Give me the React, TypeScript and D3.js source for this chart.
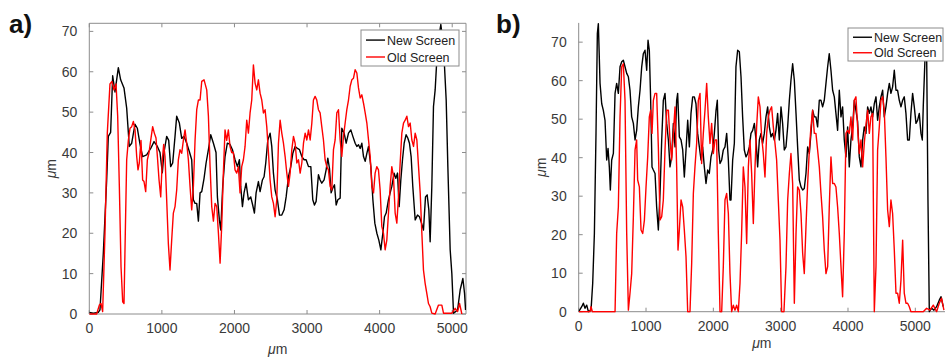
import React from 'react';
import * as d3 from 'd3';

type Pt = [number, number];

// panel a) profiles, [position in µm, height in µm]
const aNewScreen: Pt[] = [
  [0, 0.4], [55, 0.2], [124, 0.4], [147, 1], [193, 15], [239, 33], [262, 44], [294, 45], [322, 59], [354, 55],
  [400, 61], [432, 58], [478, 56], [515, 51], [551, 41.5], [584, 42.3], [630, 47], [662, 46], [699, 42], [735, 39],
  [790, 39.4], [846, 41], [892, 42.7], [938, 41.5], [974, 40], [1006, 35], [1029, 40], [1066, 44], [1094, 43], [1121, 36.5],
  [1149, 37.4], [1181, 44], [1204, 49], [1241, 47.3], [1273, 43.5], [1305, 44], [1342, 42.3], [1379, 40.2], [1411, 38.2], [1434, 28.3],
  [1457, 27.4], [1480, 27.4], [1503, 23], [1526, 30], [1549, 30.3], [1581, 33.6], [1609, 37.4], [1641, 40.7], [1673, 44.4], [1710, 42.3],
  [1746, 40], [1765, 29], [1792, 23.3], [1811, 20.8], [1838, 31.6], [1870, 39], [1902, 42.3], [1939, 42], [1972, 40.7], [2008, 38.2],
  [2041, 36.5], [2068, 38.2], [2086, 31.6], [2110, 26.6], [2132, 30], [2160, 32.4], [2192, 28.3], [2224, 29], [2251, 27], [2275, 25],
  [2298, 30], [2330, 32.8], [2353, 30.3], [2385, 33.2], [2408, 34], [2431, 37.4], [2459, 43], [2491, 44.8], [2514, 41.5], [2537, 34.9],
  [2560, 30.7], [2592, 28.3], [2620, 24.5], [2652, 24.5], [2684, 25.8], [2712, 29], [2744, 34], [2776, 36.5], [2804, 39.8], [2836, 41.5],
  [2868, 41], [2896, 40.7], [2928, 39], [2960, 38.2], [2987, 38.2], [3020, 36.5], [3052, 36.5], [3079, 28.3], [3102, 27], [3125, 27.9],
  [3157, 34.5], [3180, 33.2], [3203, 32.4], [3235, 33.2], [3263, 35.7], [3286, 38.6], [3309, 36.1], [3332, 30], [3355, 31.2], [3378, 32],
  [3401, 27], [3424, 28.3], [3456, 28.7], [3479, 46], [3511, 44.8], [3539, 42.3], [3571, 44.8], [3603, 45.6], [3631, 44], [3663, 42.3],
  [3686, 41.5], [3709, 41.9], [3732, 41], [3755, 42.3], [3778, 39], [3801, 37.8], [3824, 39.8], [3847, 41.5], [3879, 36.5], [3907, 28.3],
  [3934, 22.5], [3962, 20], [3989, 18.3], [4017, 15.9], [4044, 20], [4067, 24.1], [4090, 25], [4122, 28.3], [4145, 30], [4168, 31.6],
  [4200, 34.9], [4223, 33.6], [4246, 34.9], [4269, 26.6], [4292, 33.2], [4315, 38.2], [4338, 42.3], [4365, 44.4], [4388, 43.6], [4411, 42.3],
  [4434, 39], [4457, 31.6], [4490, 23.3], [4522, 24.5], [4549, 24.1], [4577, 22.5], [4604, 20.8], [4632, 29], [4655, 29.5], [4678, 25.8],
  [4696, 17.9], [4719, 31.6], [4742, 51.4], [4765, 55.5], [4788, 63], [4811, 68], [4843, 71.7], [4880, 66.3], [4917, 53], [4940, 36.5],
  [4972, 15.9], [4995, 10], [5018, 0.2], [5046, 0.6], [5074, 1], [5110, 6], [5147, 8.8], [5170, 5.1], [5184, 1],
];

const aOldScreen: Pt[] = [
  [0, 0], [101, 0], [138, 2.2], [161, 2.6], [184, 0.6], [216, 20], [248, 44.8], [285, 57], [312, 57.6], [340, 55.5],
  [368, 57], [391, 49], [414, 31.6], [437, 11.7], [460, 3], [478, 2.6], [496, 20], [515, 38.2], [538, 43], [561, 46],
  [584, 46.4], [607, 47.7], [630, 45.6], [653, 39], [671, 35.7], [689, 37.4], [712, 43], [735, 33.2], [754, 32.8], [777, 30.3],
  [800, 38.2], [823, 40], [846, 43], [873, 46.4], [896, 44.8], [919, 43.6], [938, 39], [961, 33.2], [984, 29], [1006, 38.2],
  [1025, 42], [1043, 39], [1066, 28.3], [1089, 17.5], [1112, 10.9], [1135, 18.3], [1158, 25], [1181, 26.6], [1204, 30.7], [1227, 38.2],
  [1250, 40.7], [1273, 39.8], [1296, 43], [1319, 45.6], [1342, 42.3], [1365, 38.2], [1388, 31.6], [1411, 25.8], [1434, 31.6], [1457, 43],
  [1480, 50.6], [1503, 53], [1526, 53], [1549, 57.6], [1581, 58], [1618, 55.5], [1641, 49], [1664, 36.5], [1687, 26.6], [1710, 23],
  [1733, 27.4], [1756, 26.6], [1779, 20], [1802, 12.6], [1824, 21.7], [1847, 34.9], [1870, 45.6], [1893, 43], [1916, 45.6], [1939, 41.5],
  [1962, 40], [1985, 40], [2008, 35.7], [2031, 34.9], [2054, 36.5], [2077, 30], [2100, 36.5], [2123, 38.2], [2146, 41.5], [2169, 48],
  [2192, 44.8], [2215, 49.8], [2238, 53], [2261, 61.7], [2284, 57.2], [2307, 55.5], [2330, 58], [2353, 54.7], [2376, 53], [2399, 49.8],
  [2422, 50.6], [2445, 46.4], [2468, 40], [2491, 33.2], [2514, 29], [2537, 27.4], [2560, 24.1], [2583, 28.3], [2606, 42.3], [2629, 48],
  [2652, 44.8], [2675, 42.3], [2698, 39], [2721, 34.9], [2744, 31.6], [2767, 34.9], [2790, 40.7], [2813, 44], [2836, 42.3], [2859, 37.4],
  [2882, 38.2], [2905, 34.9], [2928, 37.4], [2951, 42.3], [2974, 44.8], [2997, 43.1], [3020, 45.6], [3043, 43.1], [3066, 47.3], [3088, 53],
  [3111, 53.9], [3134, 53], [3157, 50.6], [3180, 49.8], [3203, 46.4], [3226, 43.1], [3249, 38.2], [3272, 36.5], [3295, 35.7], [3318, 31.6],
  [3341, 30.7], [3364, 40.7], [3387, 43.1], [3410, 49.8], [3433, 50.6], [3456, 43.1], [3479, 39], [3502, 44], [3525, 47.3], [3548, 50.6],
  [3571, 53], [3594, 56.4], [3617, 58], [3640, 58.4], [3663, 60.5], [3686, 59.7], [3709, 56], [3732, 53.5], [3755, 54.3], [3778, 52.2],
  [3801, 49.8], [3824, 47.3], [3847, 43.1], [3870, 39], [3893, 31.6], [3916, 30], [3938, 34.9], [3961, 36.5], [3984, 35.7], [4007, 30.7],
  [4030, 21.7], [4053, 20], [4076, 15.9], [4099, 18.3], [4122, 25], [4145, 31.6], [4168, 36.5], [4191, 34], [4214, 25], [4237, 22.5],
  [4260, 29], [4283, 37.4], [4306, 44.8], [4329, 47.3], [4352, 48], [4375, 49], [4398, 46.4], [4421, 47.3], [4444, 43.1], [4467, 41.5],
  [4490, 44.8], [4513, 43.1], [4536, 36.5], [4559, 30], [4582, 20], [4604, 10.9], [4627, 7.6], [4650, 5.1], [4673, 2.6], [4696, 1.8],
  [4719, 0.2], [4765, 0], [4811, 2.2], [4857, 2.2], [4880, 0.2], [4995, 0.2], [5041, 1.4], [5074, 0.6], [5101, 2.6], [5133, 0],
];

// panel b) profiles
const bNewScreen: Pt[] = [
  [0, 0], [45, 1.3], [69, 2.2], [94, 0.9], [119, 1.7], [144, 0], [183, 0.4], [208, 7.4], [233, 20.3], [257, 46.3],
  [277, 72.2], [292, 74.8], [317, 59.3], [342, 54], [366, 52.3], [391, 49.7], [416, 39.4], [436, 42.4], [455, 37.6], [470, 31.6],
  [490, 39.4], [515, 41.1], [540, 56.7], [564, 59.3], [589, 56.7], [614, 63.6], [639, 64.9], [663, 65.3], [688, 63.6], [713, 61.9],
  [738, 61], [762, 57.5], [787, 50.6], [812, 48.9], [837, 44.6], [861, 47.1], [886, 53.2], [911, 57.5], [936, 63.6], [960, 67],
  [985, 67.9], [1010, 62.7], [1030, 70.5], [1049, 67.9], [1069, 54.9], [1089, 37.6], [1109, 36.8], [1134, 35.9], [1158, 27.2], [1183, 21.2],
  [1208, 30.7], [1233, 44.6], [1257, 54.9], [1282, 56.7], [1307, 48.9], [1332, 44.6], [1356, 37.6], [1381, 40.2], [1406, 48.9], [1431, 42.8],
  [1455, 54.9], [1470, 56.7], [1495, 45.4], [1520, 44.6], [1545, 42], [1569, 35], [1594, 42], [1619, 49.7], [1644, 42.8], [1668, 51.5],
  [1693, 55.8], [1718, 55.8], [1742, 54], [1767, 46.3], [1792, 42.8], [1817, 39.4], [1841, 42.8], [1866, 37.6], [1891, 33.3], [1916, 36.8],
  [1940, 35.9], [1965, 40.2], [1990, 42], [2015, 46.3], [2040, 52.3], [2059, 54.9], [2079, 42], [2099, 38.5], [2124, 39.4], [2148, 42],
  [2173, 42.8], [2198, 46.3], [2223, 39.4], [2247, 29], [2262, 29], [2287, 39.4], [2312, 43.7], [2336, 63.6], [2361, 67.9], [2386, 67.5],
  [2411, 61], [2435, 50.6], [2460, 42], [2485, 40.2], [2510, 41.1], [2535, 42.8], [2559, 46.3], [2584, 47.1], [2609, 48.9], [2634, 44.6],
  [2658, 37.6], [2683, 44.6], [2708, 46.3], [2732, 43.7], [2757, 46.3], [2782, 50.6], [2807, 53.2], [2832, 48], [2856, 45.4], [2881, 46.3],
  [2906, 44.6], [2930, 47.1], [2955, 51.5], [2980, 44.6], [3005, 53.2], [3029, 48.9], [3054, 42], [3079, 42.8], [3104, 48], [3129, 54.9],
  [3153, 60.1], [3178, 64.4], [3203, 60.1], [3228, 51.5], [3252, 42.8], [3277, 34.2], [3302, 32.4], [3327, 31.6], [3351, 32], [3376, 35.9],
  [3401, 42.8], [3426, 41.1], [3450, 46.3], [3475, 52.3], [3500, 50.6], [3524, 50.6], [3549, 48], [3574, 54.9], [3599, 54.9], [3623, 53.2],
  [3648, 54.9], [3673, 59.3], [3698, 63.6], [3722, 67], [3747, 62.7], [3772, 57.5], [3797, 55.8], [3821, 51.5], [3846, 47.1], [3871, 57.5],
  [3896, 50.6], [3920, 53.2], [3945, 44.6], [3970, 40.2], [3995, 48], [4019, 37.6], [4044, 44.6], [4069, 48], [4094, 54.9], [4118, 52.3],
  [4143, 49.4], [4168, 40.2], [4193, 37.6], [4218, 44.6], [4242, 48], [4267, 46.3], [4292, 53.2], [4317, 51.5], [4341, 53.2], [4366, 50.6],
  [4391, 54], [4416, 55.8], [4440, 49.7], [4465, 53.2], [4490, 55.8], [4515, 57.5], [4539, 50.6], [4564, 53.2], [4589, 56.7], [4614, 59.3],
  [4638, 56.7], [4663, 58.4], [4688, 62.7], [4713, 57.5], [4737, 57.5], [4762, 54.9], [4787, 53.2], [4812, 54.9], [4836, 55.8], [4861, 51.5],
  [4886, 44.6], [4911, 44.6], [4935, 51.5], [4960, 56.7], [4985, 53.2], [5010, 48.9], [5034, 49.7], [5059, 51.5], [5084, 46.3], [5104, 44.6],
  [5118, 53.2], [5143, 65.3], [5168, 67.9], [5188, 29], [5208, 0], [5242, 0.9], [5277, 0.4], [5316, 1.3], [5356, 3], [5381, 3.9],
  [5415, 1.3],
];

const bOldScreen: Pt[] = [
  [0, 0], [168, 0], [183, 1.3], [203, 0], [540, 0], [564, 20.3], [589, 27.2], [614, 50.6], [639, 63.6], [663, 64.4],
  [688, 54.9], [713, 20.3], [738, 0.4], [762, 4.8], [787, 9.9], [812, 24.7], [837, 42], [861, 44.6], [876, 34.2], [901, 32.4],
  [926, 21.2], [951, 20.3], [976, 23.8], [1000, 32.4], [1025, 40.2], [1049, 50.6], [1069, 52.3], [1089, 46.3], [1109, 54.9], [1134, 56.7],
  [1158, 56.7], [1183, 42.8], [1208, 23.8], [1233, 24.7], [1257, 29], [1282, 42], [1307, 52.3], [1332, 52.3], [1356, 44.6], [1381, 39.4],
  [1406, 46.3], [1431, 53.2], [1455, 37.6], [1475, 16], [1495, 21.2], [1520, 29], [1545, 27.2], [1569, 21.2], [1594, 14.3], [1619, 0],
  [1653, 0], [1678, 12.5], [1703, 30.7], [1727, 37.6], [1752, 43.7], [1777, 54.9], [1802, 56.7], [1826, 38.5], [1851, 46.3], [1876, 52.3],
  [1901, 59.3], [1925, 50.6], [1950, 43.7], [1975, 48.9], [2000, 41.1], [2025, 44.6], [2049, 44.6], [2074, 20.3], [2099, 0], [2124, 0],
  [2148, 11.7], [2173, 29], [2198, 30.7], [2223, 25.5], [2247, 9.9], [2272, 0], [2297, 1.7], [2321, 0.4], [2346, 1.7], [2371, 0],
  [2396, 7.4], [2420, 20.3], [2445, 37.6], [2470, 32.4], [2495, 17.7], [2520, 37.6], [2544, 44.6], [2569, 35.9], [2594, 22.9], [2619, 37.6],
  [2643, 48], [2668, 55.8], [2693, 53.2], [2718, 45.4], [2742, 41.1], [2767, 35], [2792, 46.3], [2817, 50.6], [2841, 52.3], [2866, 53.2],
  [2891, 48], [2916, 43.7], [2940, 39.4], [2965, 29], [2990, 18.6], [3015, 0], [3049, 0], [3079, 11.7], [3104, 29], [3129, 35.9],
  [3153, 41.1], [3178, 33.3], [3203, 2.2], [3228, 20.3], [3252, 32.4], [3277, 31.6], [3302, 25.5], [3327, 15.1], [3351, 9.9], [3376, 22.1],
  [3401, 33.3], [3426, 42], [3450, 48], [3475, 52.3], [3500, 46.3], [3524, 46.3], [3549, 42], [3574, 37.6], [3599, 30.7], [3623, 24.7],
  [3648, 16], [3673, 9.9], [3698, 11.7], [3722, 27.2], [3747, 40.2], [3772, 33.3], [3797, 33.3], [3821, 32.4], [3846, 27.2], [3871, 20.3],
  [3896, 11.7], [3920, 3.9], [3945, 20.3], [3970, 46.3], [3995, 47.1], [4019, 46.3], [4044, 50.6], [4069, 44.6], [4094, 54.9], [4118, 55.8],
  [4143, 48], [4168, 41.1], [4193, 44.6], [4218, 37.6], [4242, 43.7], [4267, 48.6], [4292, 52.3], [4317, 46.3], [4341, 50.6], [4366, 51.5],
  [4391, 0], [4416, 11.7], [4440, 42], [4465, 48], [4490, 54.9], [4515, 55.8], [4539, 52.3], [4564, 40.2], [4589, 26.4], [4614, 22.1],
  [4638, 29], [4663, 25.5], [4688, 16], [4713, 4.8], [4737, 4.8], [4762, 2.2], [4787, 8.2], [4812, 18.6], [4836, 4.8], [4861, 2.2],
  [4886, 2.2], [4911, 1.3], [4935, 0], [5118, 0], [5168, 0.9], [5217, 0.4], [5267, 1.7], [5316, 0], [5356, 2.2], [5390, 3.5],
  [5425, 0.4],
];

const xTicks = [0, 1000, 2000, 3000, 4000, 5000];
const yTicks = [0, 10, 20, 30, 40, 50, 60, 70];
const legendLabels = ['New Screen', 'Old Screen'];
const seriesColors = ['#000000', '#ff0000'];

const axisColor = '#8c8c8c';
const textColor = '#3a3a3a';
const font = 'Liberation Sans, Arial, Helvetica, sans-serif';

type PanelProps = {
  id: string;
  tag: string;
  tagX: number;
  series: Pt[][];
  xMax: number;
  yMax: number;
  left: number;
  right: number;
  top: number;
  bottom: number;
  box: boolean;
  legend: { x: number; y: number; w: number; h: number };
  yLabelX: number;
  xLabelY: number;
};

const Panel = ({ id, tag, tagX, series, xMax, yMax, left, right, top, bottom, box, legend, yLabelX, xLabelY }: PanelProps) => {
  const x = d3.scaleLinear().domain([0, xMax]).range([left, right]);
  const y = d3.scaleLinear().domain([0, yMax]).range([bottom, top]);
  const line = d3
    .line<Pt>()
    .x((d) => x(d[0]))
    .y((d) => y(d[1]));
  const tick = 4;

  return (
    <g>
      <defs>
        <clipPath id={`clip-${id}`}>
          <rect x={left} y={top - 2} width={right - left} height={bottom - top + 3} />
        </clipPath>
      </defs>

      {/* axes */}
      <line x1={left} x2={right} y1={bottom} y2={bottom} stroke={axisColor} strokeWidth={1} />
      <line x1={left} x2={left} y1={top} y2={bottom} stroke={axisColor} strokeWidth={1} />
      {box && (
        <>
          <line x1={left} x2={right} y1={top} y2={top} stroke={axisColor} strokeWidth={1} />
          <line x1={right} x2={right} y1={top} y2={bottom} stroke={axisColor} strokeWidth={1} />
        </>
      )}

      {xTicks.map((t) => (
        <g key={`x${t}`}>
          <line x1={x(t)} x2={x(t)} y1={bottom} y2={bottom - tick} stroke={axisColor} />
          {box && <line x1={x(t)} x2={x(t)} y1={top} y2={top + tick} stroke={axisColor} />}
          <text x={x(t)} y={bottom + 19} textAnchor="middle" fontSize={14} fill={textColor} fontFamily={font}>
            {t}
          </text>
        </g>
      ))}
      {yTicks.map((t) => (
        <g key={`y${t}`}>
          <line x1={left} x2={left + tick} y1={y(t)} y2={y(t)} stroke={axisColor} />
          {box && <line x1={right} x2={right - tick} y1={y(t)} y2={y(t)} stroke={axisColor} />}
          <text x={left - 12} y={y(t) + 5} textAnchor="end" fontSize={14} fill={textColor} fontFamily={font}>
            {t}
          </text>
        </g>
      ))}

      {/* profiles */}
      <g clipPath={`url(#clip-${id})`}>
        {series.map((s, i) => (
          <path key={i} d={line(s) ?? ''} fill="none" stroke={seriesColors[i]} strokeWidth={1.4} strokeLinejoin="round" />
        ))}
      </g>

      {/* axis titles */}
      <text x={(left + Math.min(right, 945)) / 2} y={xLabelY} textAnchor="middle" fontSize={14} fill={textColor} fontFamily={font}>
        <tspan fontStyle="italic">μ</tspan>m
      </text>
      <text
        transform={`translate(${yLabelX},${(top + bottom) / 2}) rotate(-90)`}
        textAnchor="middle"
        fontSize={14}
        fill={textColor}
        fontFamily={font}
      >
        <tspan fontStyle="italic">μ</tspan>m
      </text>

      {/* legend */}
      <rect x={legend.x} y={legend.y} width={legend.w} height={legend.h} fill="#ffffff" stroke={axisColor} strokeWidth={1} />
      {legendLabels.map((lab, i) => {
        const ly = legend.y + legend.h * (0.28 + i * 0.47);
        return (
          <g key={lab}>
            <line x1={legend.x + 5} x2={legend.x + 24} y1={ly} y2={ly} stroke={seriesColors[i]} strokeWidth={1.4} />
            <text x={legend.x + 26} y={ly + 4.5} fontSize={12.5} fill="#222" fontFamily={font}>
              {lab}
            </text>
          </g>
        );
      })}

      <text x={tagX} y={33} fontSize={26} fontWeight="bold" fill="#111" fontFamily={font}>
        {tag}
      </text>
    </g>
  );
};

export default function App() {
  return (
    <svg width={945} height={357} style={{ position: 'absolute', left: 0, top: 0, background: '#fff' }}>
      <Panel
        id="a"
        tag="a)"
        tagX={9}
        series={[aNewScreen, aOldScreen]}
        xMax={5190}
        yMax={72}
        left={89.3}
        right={466}
        top={23.3}
        bottom={314}
        box={true}
        legend={{ x: 361, y: 30, w: 98, h: 36 }}
        yLabelX={56}
        xLabelY={354}
      />
      <Panel
        id="b"
        tag="b)"
        tagX={496}
        series={[bNewScreen, bOldScreen]}
        xMax={5450}
        yMax={75}
        left={578.7}
        right={945.6}
        top={22.9}
        bottom={311.7}
        box={false}
        legend={{ x: 848, y: 28, w: 95, h: 33 }}
        yLabelX={546}
        xLabelY={348}
      />
    </svg>
  );
}
